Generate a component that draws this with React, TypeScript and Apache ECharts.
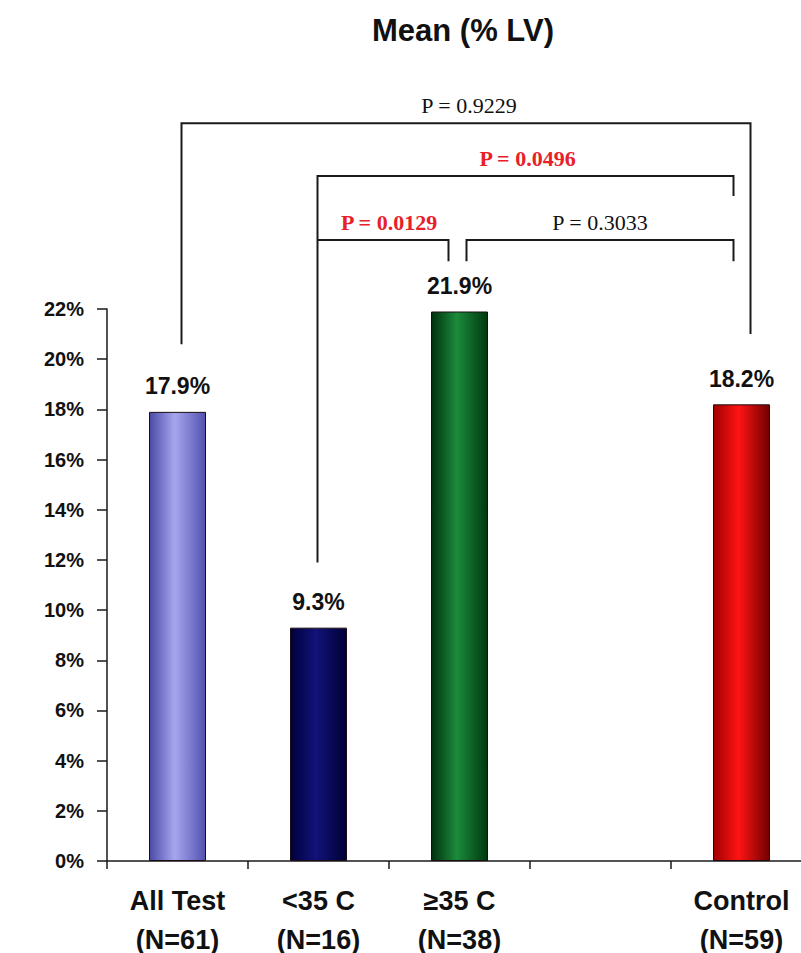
import React, { useEffect, useRef } from 'react';
import * as echarts from 'echarts';

// Group names (two-line axis labels); the blank slot keeps a gap before the control group
const categories = ['All Test\n(N=61)', '<35 C\n(N=16)', '≥35 C\n(N=38)', '', 'Control\n(N=59)'];
// Mean % LV per group
const meanValues: (number | null)[] = [17.9, 9.3, 21.9, null, 18.2];
// Value axis range and step (%)
const yMin = 0;
const yMax = 22;
const yStep = 2;

// Cylinder-style shading per bar: [left edge, centre, right edge]
const barShades: (string[] | null)[] = [
  ['#4a4aa6', '#a6a6ef', '#5252b0'],
  ['#00003c', '#12127a', '#000036'],
  ['#00300f', '#1b8b3b', '#00380f'],
  null,
  ['#a00000', '#ff1414', '#700000'],
];

// Pairwise comparisons drawn as brackets above the bars
const pLabels = ['P = 0.9229', 'P = 0.0496', 'P = 0.0129', 'P = 0.3033'];
const pSignificant = [false, true, true, false];
const pFrom = [0, 1, 1, 2];
const pTo = [4, 4, 2, 4];
// bracket heights in axis units (%): horizontal bar, left leg end, right leg end
const pLevel = [29.4, 27.3, 24.75, 24.75];
const pLeftEnd = [20.6, 11.9, 24.75, 23.9];
const pRightEnd = [21.0, 26.5, 23.9, 23.9];
// leg offsets from the category centre (px)
const pFromDx = [4, -1, -1, 7];
const pToDx = [9, -8, -11, -8];
// nudge of each p-value caption from the bracket midpoint (px)
const pLabelDx = [3, 2, 6, 0];

const FONT = 'Liberation Sans, Arial, sans-serif';
const SERIF = 'Liberation Serif, Times New Roman, serif';

// The plot area runs a little past the right edge of the page, so the chart
// canvas is wider than the visible frame and the overflow is clipped.
const VIEW_W = 801;
const VIEW_H = 953;
const CHART_W = 820;

export default function App() {
  const ref = useRef<HTMLDivElement>(null);

  useEffect(() => {
    if (!ref.current) return;
    const chart = echarts.init(ref.current, undefined, { renderer: 'svg' });

    const data = meanValues.map((v, i) => {
      const shade = barShades[i];
      if (v === null || !shade) return '-';
      return {
        value: v,
        itemStyle: {
          color: new echarts.graphic.LinearGradient(0, 0, 1, 0, [
            { offset: 0, color: shade[0] },
            { offset: 0.45, color: shade[1] },
            { offset: 1, color: shade[2] },
          ]),
          borderColor: '#1c0c14',
          borderWidth: 1,
        },
      };
    });

    chart.setOption({
      animation: false,
      backgroundColor: '#ffffff',
      grid: {
        left: 107,
        top: 309,
        width: 705,
        height: 552,
        containLabel: false,
        outerBoundsMode: 'none',
      },
      xAxis: {
        type: 'category',
        data: categories,
        boundaryGap: true,
        axisLine: { show: true, lineStyle: { color: '#1a1a1a', width: 1.5 } },
        axisTick: { show: true, inside: false, length: 8, alignWithLabel: false, lineStyle: { color: '#1a1a1a', width: 1.5 } },
        axisLabel: {
          interval: 0,
          margin: 20,
          color: '#111',
          fontFamily: FONT,
          fontWeight: 'bold',
          fontSize: 27,
          lineHeight: 39,
        },
      },
      yAxis: {
        type: 'value',
        min: yMin,
        max: yMax,
        interval: yStep,
        splitLine: { show: false },
        axisLine: { show: true, lineStyle: { color: '#1a1a1a', width: 1.5 } },
        axisTick: { show: true, inside: false, length: 10, lineStyle: { color: '#1a1a1a', width: 1.5 } },
        axisLabel: {
          margin: 23,
          color: '#111',
          fontFamily: FONT,
          fontWeight: 'bold',
          fontSize: 20,
          formatter: '{value}%',
        },
      },
      series: [
        {
          type: 'bar',
          data,
          barWidth: 57,
          label: {
            show: true,
            position: 'top',
            distance: 14,
            color: '#111',
            fontFamily: FONT,
            fontWeight: 'bold',
            fontSize: 23,
            formatter: (p: any) => `${Number(p.value).toFixed(1)}%`,
          },
        },
      ],
    });

    // Brackets positioned through the axes' own scales
    const xAt = (idx: number) => chart.convertToPixel({ xAxisIndex: 0 }, idx) as number;
    const yAt = (v: number) => chart.convertToPixel({ yAxisIndex: 0 }, v) as number;
    const lineStyle = { stroke: '#1a1a1a', lineWidth: 2, fill: 'none' };

    const graphics: any[] = [
      {
        type: 'text',
        x: 463,
        y: 30,
        style: {
          text: 'Mean (% LV)',
          fill: '#111',
          font: `bold 31px ${FONT}`,
          align: 'center',
          verticalAlign: 'middle',
        },
      },
    ];

    pLabels.forEach((label, i) => {
      const x1 = xAt(pFrom[i]) + pFromDx[i];
      const x2 = xAt(pTo[i]) + pToDx[i];
      const yl = yAt(pLevel[i]);
      graphics.push({
        type: 'polyline',
        shape: {
          points: [
            [x1, yAt(pLeftEnd[i])],
            [x1, yl],
            [x2, yl],
            [x2, yAt(pRightEnd[i])],
          ],
        },
        style: lineStyle,
      });
      graphics.push({
        type: 'text',
        x: (x1 + x2) / 2 + pLabelDx[i],
        y: yl - 7,
        style: {
          text: label,
          fill: pSignificant[i] ? '#e8202a' : '#111',
          font: `${pSignificant[i] ? 'bold ' : ''}22px ${SERIF}`,
          align: 'center',
          verticalAlign: 'bottom',
        },
      });
    });

    chart.setOption({ graphic: graphics });

    return () => chart.dispose();
  }, []);

  return (
    <div
      style={{
        position: 'fixed',
        left: 0,
        top: 0,
        width: VIEW_W,
        height: VIEW_H,
        overflow: 'hidden',
        background: '#fff',
      }}
    >
      <div ref={ref} style={{ width: CHART_W, height: VIEW_H }} />
    </div>
  );
}
